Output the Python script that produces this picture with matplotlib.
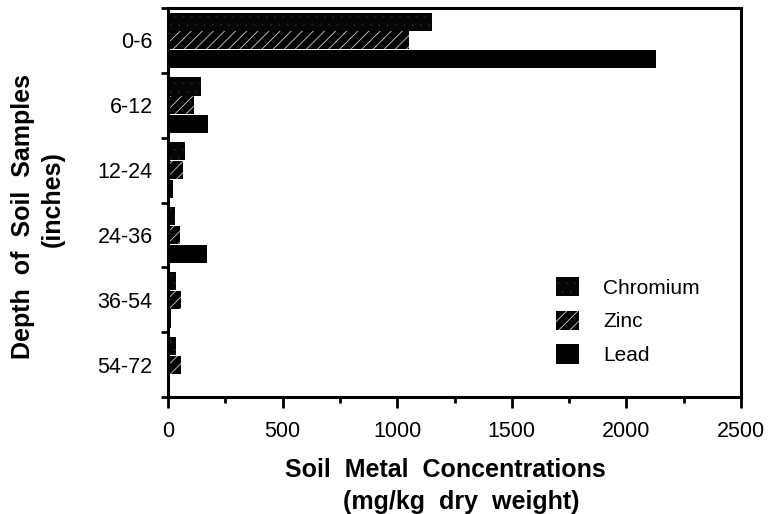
import numpy as np
import matplotlib
matplotlib.use("Agg")
import matplotlib.pyplot as plt

# depth intervals (inches) and metal concentrations (mg/kg dry weight)
depths = ["0-6", "6-12", "12-24", "24-36", "36-54", "54-72"]
chromium = [1150, 143, 75, 29, 34, 34]
zinc = [1050, 114, 66, 51, 57, 57]
lead = [2130, 175, 22, 170, 12, 10]

plt.rcParams["font.family"] = ["Liberation Sans", "DejaVu Sans"]
plt.rcParams["hatch.linewidth"] = 0.6

W, H = 775, 514
fig = plt.figure(figsize=(W / 100, H / 100), dpi=100)
ax = fig.add_axes([168 / W, 1 - 397 / H, (741 - 168) / W, (397 - 8) / H])

y = np.arange(len(depths))
h = 0.28
off = 0.29
ax.barh(y - off, chromium, height=h, color="#050505", edgecolor="#1c1c1c",
        hatch="..", linewidth=0, label="Chromium")
ax.barh(y, zinc, height=h, color="black", edgecolor="#cfcfcf",
        hatch="///", linewidth=0, label="Zinc")
ax.barh(y + off, lead, height=h, color="black", linewidth=0, label="Lead")

ax.set_xlim(0, 2500)
ax.set_ylim(len(depths) - 0.5, -0.5)

ax.set_xticks(np.arange(0, 2501, 500))
ax.set_xticks(np.arange(250, 2500, 500), minor=True)
ax.tick_params(axis="x", which="major", length=8, width=2, direction="out",
               labelsize=15.5, pad=9)
ax.tick_params(axis="x", which="minor", length=4, width=2, direction="out")

# boundary ticks between depth classes, labels at the centres
ax.set_yticks(np.arange(-0.5, len(depths), 1.0))
ax.set_yticklabels([])
ax.set_yticks(y, minor=True)
ax.set_yticklabels(depths, minor=True)
ax.tick_params(axis="y", which="major", length=5, width=2, direction="out")
ax.tick_params(axis="y", which="minor", length=0, labelsize=15.5, pad=11)

for s in ax.spines.values():
    s.set_linewidth(2.2)

# axis titles, each line placed on its own like the original
lab = dict(fontsize=18, fontweight="bold", ha="center", va="center")
fig.text(445 / W, 1 - 470 / H, "Soil  Metal  Concentrations", **lab)
fig.text(461 / W, 1 - 502 / H, "(mg/kg  dry  weight)", **lab)
fig.text(23 / W, 1 - 216 / H, "Depth  of  Soil  Samples", rotation=90, **lab)
fig.text(53 / W, 1 - 199 / H, "(inches)", rotation=90, **lab)

ax.legend(loc="upper left", bbox_to_anchor=(0.663, 0.33), frameon=False,
          fontsize=15, handlelength=1.1, handleheight=1.05, handletextpad=1.15,
          labelspacing=0.62, borderaxespad=0)

fig.savefig("out.png", dpi=100)
